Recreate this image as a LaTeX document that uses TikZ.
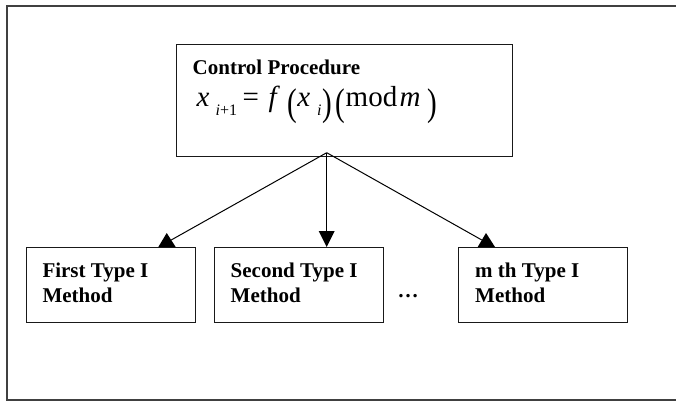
\documentclass[tikz,border=0pt]{standalone}
\usepackage{graphicx}
\usepackage{fontspec}
\setmainfont{Liberation Serif}
\newfontface\timit{Liberation Serif Italic}
\newcommand{\putat}[2]{\rlap{\hspace*{#1}#2}}
\newcommand{\lowsub}[1]{\raisebox{-8.3pt}{\fontsize{16}{16}\selectfont #1}}
\newcommand{\tallp}[1]{\raisebox{-8.4pt}{\scalebox{1}[1.33]{#1}}}
\begin{document}
\begin{tikzpicture}[x=1pt,y=-1pt,
  box/.style={draw=black!90,line width=1.3pt,rectangle,inner sep=0pt,anchor=north west},
  boxtext/.style={anchor=base west,inner sep=0pt,align=left,font=\fontsize{21}{24.3}\selectfont\bfseries},
  conn/.style={draw=black,line width=1pt},
  head/.style={fill=black}]
\useasboundingbox (0,0) rectangle (676,401);
\fill[white] (0,0) rectangle (676,401);
% outer frame
\draw[black!75,line width=2pt] (680,6.5) -- (6.5,6.5) -- (6.5,399.5) -- (680,399.5);
% control box
\node[box,minimum width=336pt,minimum height=112pt] (ctrl) at (176,44) {};
\node[anchor=base west,inner sep=0pt,font=\fontsize{21}{24}\selectfont\bfseries] (ctitle) at (192.5,75) {Control Procedure};
\node[anchor=base west,inner sep=0pt,font=\fontsize{29}{32}\selectfont] (formula) at (196,106.7)
  {\putat{0pt}{{\timit x}}%
   \putat{19pt}{\lowsub{{\timit i}+1}}%
   \putat{46pt}{=}%
   \putat{72pt}{{\timit f}}%
   \putat{90.7pt}{\tallp{(}}%
   \putat{100.7pt}{{\timit x}}%
   \putat{120.5pt}{\lowsub{{\timit i}}}%
   \putat{125.7pt}{\tallp{)}}%
   \putat{139pt}{\tallp{(}}%
   \putat{149pt}{mod}%
   \putat{203pt}{{\timit m}}%
   \putat{230.7pt}{\tallp{)}}};
% method boxes
\node[box,minimum width=169pt,minimum height=75pt] (b1) at (25.7,246.7) {};
\node[box,minimum width=168.5pt,minimum height=75pt] (b2) at (214,246.7) {};
\node[box,minimum width=169pt,minimum height=75pt] (b3) at (458,246.7) {};
\node[boxtext] (t1) at (42.3,302) {First Type I\\Method};
\node[boxtext] (t2) at (230.5,302) {Second Type I\\Method};
\node[boxtext] (t3) at (475,302) {m th Type I\\Method};
\node[anchor=base,inner sep=0pt,font=\fontsize{21}{24}\selectfont\bfseries] (dots) at (408,297) {\dots};
% connectors
\coordinate (apex) at (326.7,152.7);
\coordinate (e1) at (171.2,240);
\coordinate (e2) at (326.7,232);
\coordinate (e3) at (481.8,240);
\draw[conn] (apex) -- (e1);
\draw[conn] (apex) -- (e2);
\draw[conn] (apex) -- (e3);
\fill[head] (158.3,247) -- (175.7,247) -- (166.7,233) -- cycle;
\fill[head] (318.7,231) -- (334.7,231) -- (326.7,247) -- cycle;
\fill[head] (477.7,247) -- (495,247) -- (486,233) -- cycle;
\end{tikzpicture}
\end{document}
